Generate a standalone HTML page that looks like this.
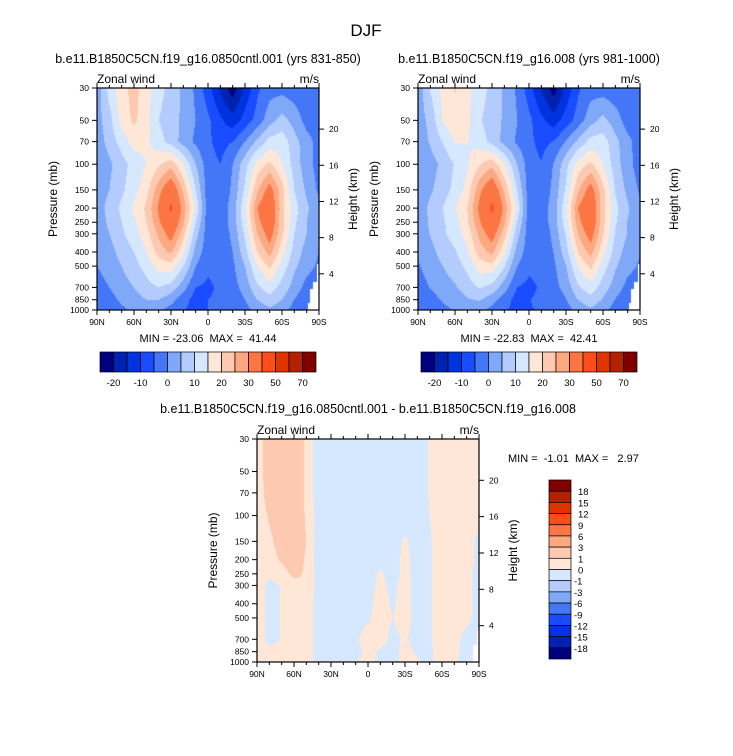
<!DOCTYPE html>
<html><head><meta charset="utf-8">
<style>
html,body{margin:0;padding:0;background:#fff;}
body{width:733px;height:756px;position:relative;overflow:hidden;font-family:"Liberation Sans",Arial,sans-serif;}
canvas{position:absolute;}
svg{position:absolute;left:0;top:0;}
</style></head>
<body>
<canvas id="c1" style="left:97px;top:88px" width="222" height="222"></canvas>
<canvas id="c2" style="left:418px;top:88px" width="222" height="222"></canvas>
<canvas id="c3" style="left:257px;top:439px" width="222" height="223"></canvas>
<svg id="s" width="733" height="756"></svg>
<script>
// ---- data ----
const lats = [90,80,70,60,50,40,30,20,10,0,-10,-20,-30,-40,-50,-60,-70,-80,-90];
const pLevels = [30,50,70,100,150,200,250,300,400,500,700,850,1000];
const cntlWind = [
 [2,12,18,22,17,12,8,4,-1,-8,-16,-23,-14,-6,-2,-2,-3,-3,-3],
 [3,8,17,21,17,10,7,4,0,-4,-9,-13,-8,-3,3,7,3,-2,-3],
 [2,7,12,17,16,12,8,3,-1,-4,-7,-5,0,6,12,13,7,2,-2],
 [1,4,8,12,15,19,23,15,5,-3,-5,0,8,17,21,15,8,2,-2],
 [2,5,9,13,18,28,36,24,10,-3,-4,1,11,24,33,22,10,4,-1],
 [2,7,11,16,21,31,41.4,28,14,-3,-3,2,14,30,37,22,12,6,1],
 [2,6,10,14,20,29,37,26,10,-3,-3,2,13,28,36,22,11,5,1],
 [2,5,9,13,18,26,33,22,7,-3,-3,1,11,25,33,21,10,5,1],
 [1,3,7,10,15,22,26,16,3,-3,-3,0,8,20,27,17,8,3,0],
 [0,2,5,8,12,17,18,10,0,-4,-3,-1,5,15,21,13,6,2,-1],
 [-2,0,3,5,8,10,8,2,-5,-6,-4,-2,2,9,13,8,3,-2,-4],
 [-3,-2,1,3,5,5,2,-3,-7,-5,-4,-4,0,5,8,5,0,-4,-5],
 [-3,-3,-1,1,2,1,-2,-5,-6,-5,-5,-5,-2,2,4,2,-2,-4,-4]
];
const diffWind = [
 [0.5,1.5,1.8,1.7,0.8,-0.6,-0.3,-0.3,-0.3,-0.3,-0.3,-0.3,-0.3,-0.3,0.05,0.5,0.5,0.5,0.5],
 [0.5,1.5,1.8,1.7,0.8,-0.6,-0.3,-0.3,-0.3,-0.3,-0.3,-0.3,-0.3,-0.3,0.05,0.5,0.5,0.5,0.5],
 [0.5,1.4,1.8,1.7,0.8,-0.6,-0.3,-0.3,-0.3,-0.3,-0.3,-0.3,-0.3,-0.3,0.05,0.5,0.5,0.5,0.5],
 [0.5,1.1,1.7,1.6,0.9,-0.6,-0.3,-0.3,-0.3,-0.3,-0.3,-0.3,-0.3,-0.3,0.0,0.5,0.5,0.4,0.3],
 [0.5,0.8,1.4,1.5,1.0,-0.6,-0.3,-0.3,-0.3,-0.3,-0.3,-0.3,0.1,-0.3,-0.1,0.5,0.5,0.3,-0.2],
 [0.5,0.7,1.1,1.4,0.9,-0.6,-0.3,-0.3,-0.3,-0.3,-0.3,-0.3,0.2,-0.3,-0.1,0.5,0.5,0.3,-0.2],
 [0.5,0.2,0.7,1.2,0.9,-0.5,-0.3,-0.3,-0.3,-0.3,0.1,-0.3,0.2,-0.3,-0.1,0.5,0.4,0.2,-0.3],
 [0.5,-0.3,0.05,0.7,0.9,-0.5,-0.3,-0.3,-0.3,-0.3,0.2,-0.2,0.3,-0.3,-0.1,0.5,0.4,0.2,-0.3],
 [0.5,-0.3,0.05,0.6,0.6,-0.5,-0.3,-0.3,-0.3,-0.2,0.3,-0.1,0.3,-0.3,-0.1,0.5,0.4,0.2,-0.3],
 [0.5,-0.3,0.05,0.6,0.6,-0.5,-0.3,-0.3,-0.3,-0.1,0.3,0.0,0.3,-0.3,-0.1,0.5,0.4,0.2,-0.3],
 [0.5,-0.3,0.05,0.6,0.5,-0.5,-0.3,-0.3,-0.1,0.3,0.3,-0.2,0.1,-0.3,-0.1,0.5,0.3,-0.3,-0.3],
 [0.5,0.3,0.4,0.6,0.5,-0.5,-0.3,-0.3,-0.2,0.2,-0.1,-0.2,0.2,-0.1,-0.2,0.5,0.2,-0.3,-0.3],
 [0.5,0.4,0.4,0.6,0.5,-0.5,-0.3,-0.3,-0.1,0.2,-0.2,-0.2,0.2,0.1,-0.2,0.5,0.1,-0.3,-0.3]
];
const levelsMain = [-20,-15,-10,-5,0,5,10,15,20,25,30,40,50,60,70];
const levelsDiff = [-18,-15,-12,-9,-6,-3,-1,0,1,3,6,9,12,15,18];
const mainTickLabels = ["-20","-10","0","10","20","30","50","70"];
const diffTickLabels = ["18","15","12","9","6","3","1","0","-1","-3","-6","-9","-12","-15","-18"];
const latTickLabels = ["90N","60N","30N","0","30S","60S","90S"];
const pTickLabels = [30,50,70,100,150,200,250,300,400,500,700,850,1000];
const hTicks = [4,8,12,16,20];
const colors = ["#00007f","#0022b0","#0033e0","#1a4cff","#4477f8","#80a8f8","#b3ccfd","#d6e8fe","#fee7d6","#fdc9b0","#fca880","#fc7644","#ff4c1a","#e03300","#b22200","#800000"];

// ---- rendering ----
const lnP = pLevels.map(p=>Math.log(p));
function lerpField(F, lat, p){
  let fx = (90-lat)/10; fx=Math.max(0,Math.min(17.9999,fx));
  const ix=Math.floor(fx), tx=fx-ix;
  const lp=Math.log(p); let iy=0;
  while(iy<pLevels.length-2 && lp>lnP[iy+1]) iy++;
  let ty=(lp-lnP[iy])/(lnP[iy+1]-lnP[iy]); ty=Math.max(0,Math.min(1,ty));
  const a=F[iy][ix]*(1-tx)+F[iy][ix+1]*tx, b=F[iy+1][ix]*(1-tx)+F[iy+1][ix+1]*tx;
  return a*(1-ty)+b*ty;
}
function colorFor(v, levels){let k=0; while(k<levels.length && v>=levels[k]) k++; return colors[k];}
function yOfP(p,top,h){return top+Math.log(p/30)/Math.log(1000/30)*h;}
function xOfLat(lat,left,w){return left+(90-lat)/180*w;}
function drawField(id, F, levels, missing){
  const c=document.getElementById(id), ctx=c.getContext('2d');
  const w=c.width,h=c.height;
  for(let y=0;y<h;y++){
    const p=Math.exp(Math.log(30)+(y+0.5)/h*Math.log(1000/30));
    for(let x=0;x<w;x++){
      const lat=90-(x+0.5)/w*180;
      if(missing(lat,p)){ctx.fillStyle="#fff";}
      else ctx.fillStyle=colorFor(lerpField(F,lat,p),levels);
      ctx.fillRect(x,y,1,1);
    }
  }
}
const cntl2 = cntlWind.map((r,i)=>r.map((v,j)=>v-diffWind[i][j]));
const miss1=(lat,p)=>(lat<-81&&p>900)||(lat<-82.5&&p>720)||(lat<-85&&p>640)||(lat<-88&&p>480);
const miss3=(lat,p)=>(lat<-85&&p>760)||(lat<-88&&p>600);
drawField('c1',cntlWind,levelsMain,miss1);
drawField('c2',cntl2,levelsMain,miss1);
drawField('c3',diffWind,levelsDiff,miss3);

const S=document.getElementById('s'), NS="http://www.w3.org/2000/svg";
function el(tag,attrs,parent){const e=document.createElementNS(NS,tag);for(const k in attrs)e.setAttribute(k,attrs[k]);(parent||S).appendChild(e);return e;}
function txt(x,y,s,size,anchor,extra){const t=el('text',Object.assign({x:x,y:y,'font-size':size,'text-anchor':anchor||'start','font-family':'Liberation Sans, Arial, sans-serif',fill:'#000','xml:space':'preserve',style:'white-space:pre'},extra||{}));t.textContent=s;return t;}

function panel(left,top,w,h,name){
  const g=el('g',{});
  
  
  el('rect',{x:left,y:top,width:w,height:h,fill:'none',stroke:'#000','stroke-width':1.2},g);
  latTickLabels.forEach((lab,i)=>{
    const lat=90-i*30, x=xOfLat(lat,left,w);
    el('line',{x1:x,y1:top+h,x2:x,y2:top+h+5,stroke:'#000','stroke-width':1},g);
    el('line',{x1:x,y1:top,x2:x,y2:top-5,stroke:'#000','stroke-width':1},g);
    const t=txt(x,top+h+15,lab,8.5,'middle');
    
    
  });
  for(let lat=80;lat>-90;lat-=10){ if(lat%30===0) continue; const x=xOfLat(lat,left,w);
    el('line',{x1:x,y1:top+h,x2:x,y2:top+h+3,stroke:'#000','stroke-width':1},g);
    el('line',{x1:x,y1:top,x2:x,y2:top-3,stroke:'#000','stroke-width':1},g);}
  pTickLabels.forEach(p=>{
    const y=yOfP(p,top,h);
    el('line',{x1:left-5,y1:y,x2:left,y2:y,stroke:'#000','stroke-width':1},g);
    const t=txt(left-8,y+3,String(p),8.5,'end');
    
    
  });
  hTicks.forEach(z=>{
    const p=1000*Math.exp(-z/7), y=yOfP(p,top,h);
    el('line',{x1:left+w,y1:y,x2:left+w+5,y2:y,stroke:'#000','stroke-width':1},g);
    const t=txt(left+w+10,y+3,String(z),8.5,'start');
    
    
  });
  txt(left,top-5,'Zonal wind',12,'start');
  txt(left+w,top-5,'m/s',12,'end');
  const yl=txt(0,0,'Pressure (mb)',12,'middle',{transform:`translate(${left-40},${top+h/2}) rotate(-90)`});
  
  const hl=txt(0,0,'Height (km)',12,'middle',{transform:`translate(${left+w+38},${top+h/2}) rotate(-90)`});
  
}
panel(97,88,222,222,'panel-cntl');
panel(418,88,222,222,'panel-008');
panel(257,439,222,223,'panel-diff');

txt(366,36,'DJF',17,'middle');
txt(208,63,'b.e11.B1850C5CN.f19_g16.0850cntl.001 (yrs 831-850)',12.5,'middle');
txt(529,63,'b.e11.B1850C5CN.f19_g16.008 (yrs 981-1000)',12.5,'middle');
txt(368,413,'b.e11.B1850C5CN.f19_g16.0850cntl.001 - b.e11.B1850C5CN.f19_g16.008',12.5,'middle');
txt(208,342,'MIN = -23.06  MAX =  41.44',11,'middle');
txt(529,342,'MIN = -22.83  MAX =  42.41',11,'middle');
txt(508,462,'MIN =  -1.01  MAX =   2.97',11,'start');

function hbar(left,name){
  const top=352,bw=13.5,bh=20;
  colors.forEach((c,i)=>{
    const r=el('rect',{x:left+i*bw,y:top,width:bw,height:bh,fill:c,stroke:'#000','stroke-width':0.7});
    
    
  });
  mainTickLabels.forEach((lab,i)=>{
    const k=1+2*i;
    const t=txt(left+k*bw,top+bh+14,lab,9.5,'middle');
    
    
  });
}
hbar(100,'colorbar-cntl');
hbar(421,'colorbar-008');
(function(){
  const left=549,top=480,bw=22,bh=179/16;
  colors.slice().reverse().forEach((c,i)=>{
    const r=el('rect',{x:left,y:top+i*bh,width:bw,height:bh,fill:c,stroke:'#000','stroke-width':0.7});
    
    
  });
  diffTickLabels.forEach((lab,i)=>{
    const t=txt(lab.startsWith('-')?left+bw+3:left+bw+7,top+(i+1)*bh+4,lab,9.5,'start');
    
    
  });
})();
</script>
</body></html>
